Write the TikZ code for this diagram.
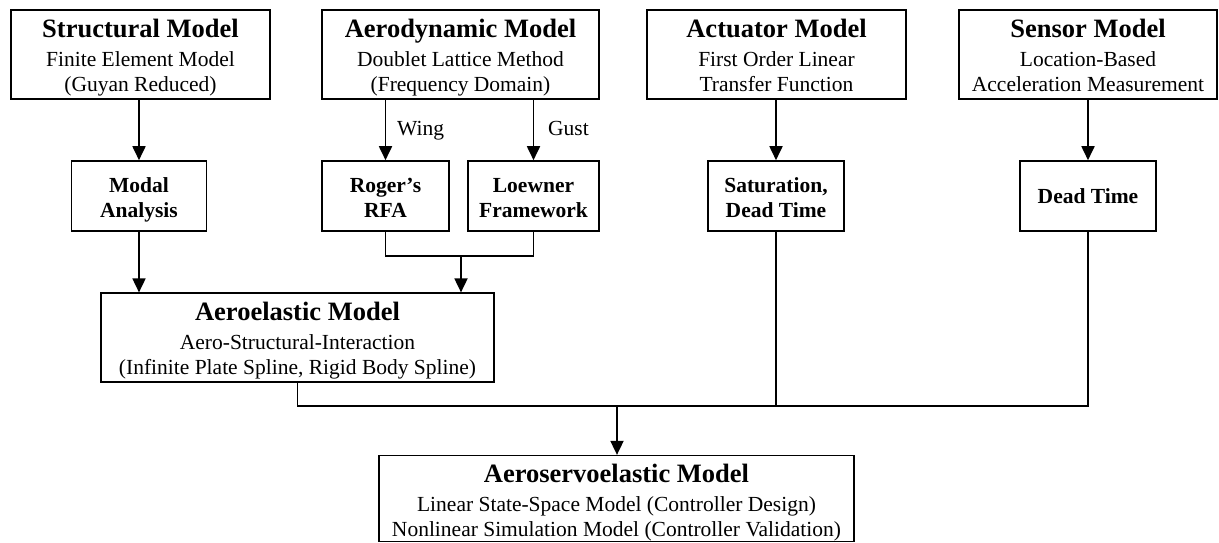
\documentclass[tikz,border=0pt]{standalone}
\usepackage{fontspec}
\setmainfont{Liberation Serif}
\usetikzlibrary{arrows.meta}
\newcommand\boxtitle{\fontsize{26.5}{30}\selectfont\bfseries}
\newcommand\boxsub{\fontsize{21.5}{25.5}\selectfont}
\newcommand\midsub{\fontsize{21.5}{25}\selectfont}
\newcommand\tstrut{\rule{0pt}{27.5pt}}
\newcommand\dstrut[1]{\rule[-#1]{0pt}{#1}}
\begin{document}
\begin{tikzpicture}[x=1pt,y=-1pt,
  topbox/.style={draw, line width=1.6pt, inner sep=0pt, align=center, font=\boxsub, minimum height=89pt},
  midbox/.style={draw, line width=1.6pt, inner sep=0pt, align=center, font=\midsub\bfseries, minimum height=70pt},
  bigbox/.style={draw, line width=1.2pt, inner sep=0pt, align=center, font=\boxsub},
  arr/.style={line width=1.8pt, -{Triangle[length=14pt,width=13pt]}},
  ln/.style={line width=1.8pt},
  lbl/.style={font=\boxsub, inner sep=0pt, anchor=base west}]
\useasboundingbox (0,0) rectangle (1219,542);

\node[topbox, minimum width=259pt] (struct) at (140.5,54.5)
  {{\boxtitle\tstrut Structural Model}\\[3pt] Finite Element Model\\ (Guyan Reduced)\dstrut{7.5pt}};
\node[topbox, minimum width=277pt] (aero) at (460.5,54.5)
  {{\boxtitle\tstrut Aerodynamic Model}\\[3pt] Doublet Lattice Method\\ (Frequency Domain)\dstrut{7.5pt}};
\node[topbox, minimum width=259pt] (act) at (776.5,54.5)
  {{\boxtitle\tstrut Actuator Model}\\[3pt] First Order Linear\\ Transfer Function\dstrut{7.5pt}};
\node[topbox, minimum width=258pt] (sens) at (1088,54.5)
  {{\boxtitle\tstrut Sensor Model}\\[3pt] Location-Based\\ Acceleration Measurement\dstrut{7.5pt}};

\node[midbox, minimum width=135pt] (modal) at (139,196) {\rule{0pt}{31pt}Modal\\Analysis\dstrut{14pt}};
\node[midbox, minimum width=127pt] (roger) at (385.5,196) {\rule{0pt}{31pt}Roger’s\\RFA\dstrut{14pt}};
\node[midbox, minimum width=131pt] (loew) at (533.5,196) {\rule{0pt}{31pt}Loewner\\Framework\dstrut{14pt}};
\node[midbox, minimum width=136pt] (sat) at (776,196) {\rule{0pt}{31pt}Saturation,\\Dead Time\dstrut{14pt}};
\node[midbox, minimum width=136pt] (dead) at (1088,196) {\rule{0pt}{42pt}Dead Time\dstrut{28pt}};

\node[bigbox, minimum width=393pt, minimum height=89pt] (aeroel) at (297.5,337.5)
  {{\boxtitle\tstrut Aeroelastic Model}\\[3pt] Aero-Structural-Interaction\\ (Infinite Plate Spline, Rigid Body Spline)\dstrut{7.5pt}};
\node[bigbox, minimum width=475pt, minimum height=85pt] (ase) at (616.5,498.5)
  {{\boxtitle\tstrut Aeroservoelastic Model}\\[3pt] Linear State-Space Model (Controller Design)\\ Nonlinear Simulation Model (Controller Validation)\dstrut{3.5pt}};

\coordinate (j1) at (461,256);
\coordinate (j2) at (617,406);

\draw[arr] (struct.south -| modal.north) -- (modal.north);
\draw[arr] (aero.south -| roger.north) -- (roger.north);
\node[lbl] (wing) at (397,135) {Wing};
\draw[arr] (aero.south -| loew.north) -- (loew.north);
\node[lbl] (gust) at (548,135) {Gust};
\draw[ln] (roger.south) |- (j1) -| (loew.south);
\draw[arr] (j1) -- (j1 |- aeroel.north);
\draw[arr] (modal.south) -- (modal.south |- aeroel.north);
\draw[arr] (act.south -| sat.north) -- (sat.north);
\draw[arr] (sens.south -| dead.north) -- (dead.north);
\draw[ln] (aeroel.south) |- (j2 -| dead.south) -- (dead.south);
\draw[ln] (sat.south) -- (sat.south |- j2);
\draw[arr] (j2) -- (j2 |- ase.north);
\end{tikzpicture}
\end{document}
